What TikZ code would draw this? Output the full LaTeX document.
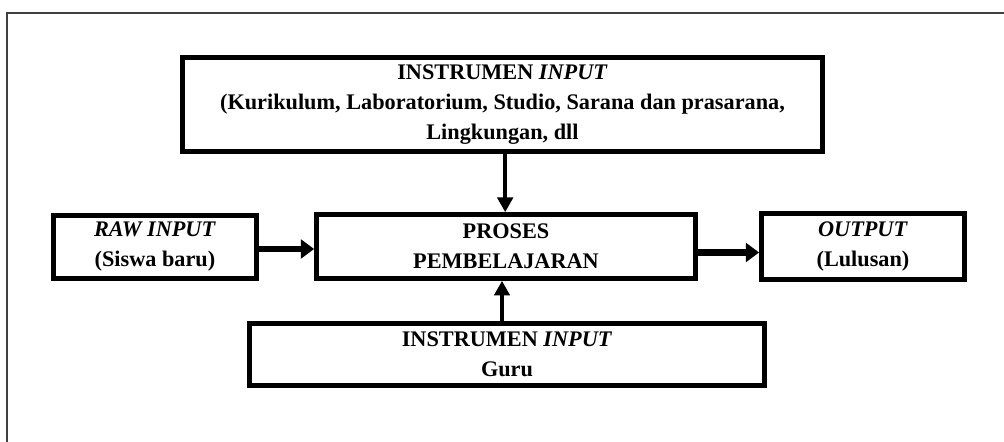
\documentclass[tikz,border=0pt]{standalone}
\usepackage{fontspec}
\setmainfont{Liberation Serif}
\usetikzlibrary{arrows.meta}
\begin{document}
\begin{tikzpicture}[x=0.75pt,y=-0.75pt,
  box/.style={draw=black,line width=3.5pt,align=center,inner sep=0pt,
    font=\fontsize{16.7}{22.5}\selectfont\bfseries,
    execute at begin node={\rule{0pt}{16.5pt}}},
  thickarrow/.style={line width=5pt,-{Triangle[length=10pt,width=14pt]}},
  thinarrow/.style={line width=3pt,-{Triangle[length=11pt,width=11.5pt]}}]
\useasboundingbox (0,0) rectangle (1004,442);
\begin{scope}
\clip (0,0) rectangle (1004,442);
\draw[line width=1.5pt,draw=black!75] (7,13) rectangle (1010,470);
\end{scope}
\node[box,minimum width=640*0.75pt,minimum height=94*0.75pt] (top) at (502.5,104.5)
  {INSTRUMEN \textit{INPUT}\\(Kurikulum, Laboratorium, Studio, Sarana dan prasarana,\\Lingkungan, dll};
\node[box,minimum width=379*0.75pt,minimum height=64*0.75pt] (proc) at (506,246.5)
  {PROSES\\PEMBELAJARAN};
\node[box,minimum width=203*0.75pt,minimum height=63*0.75pt] (raw) at (155,247)
  {\textit{RAW INPUT}\\(Siswa baru)};
\node[box,minimum width=203*0.75pt,minimum height=66*0.75pt] (out) at (863,246.5)
  {\textit{OUTPUT}\\(Lulusan)};
\node[box,minimum width=515*0.75pt,minimum height=62*0.75pt] (bot) at (507,354.5)
  {INSTRUMEN \textit{INPUT}\\Guru};
\draw[thinarrow] ([xshift=2pt]top.south) -- ([xshift=2pt]top.south |- proc.north);
\draw[thinarrow] ([xshift=-3.75pt]bot.north) -- ([xshift=-3.75pt]bot.north |- proc.south);
\draw[thickarrow] ([yshift=-1.5pt]raw.east) -- ([yshift=-1.5pt]raw.east -| proc.west);
\draw[thickarrow] ([yshift=-4.5pt]proc.east) -- ([yshift=-4.5pt]proc.east -| out.west);
\end{tikzpicture}
\end{document}
